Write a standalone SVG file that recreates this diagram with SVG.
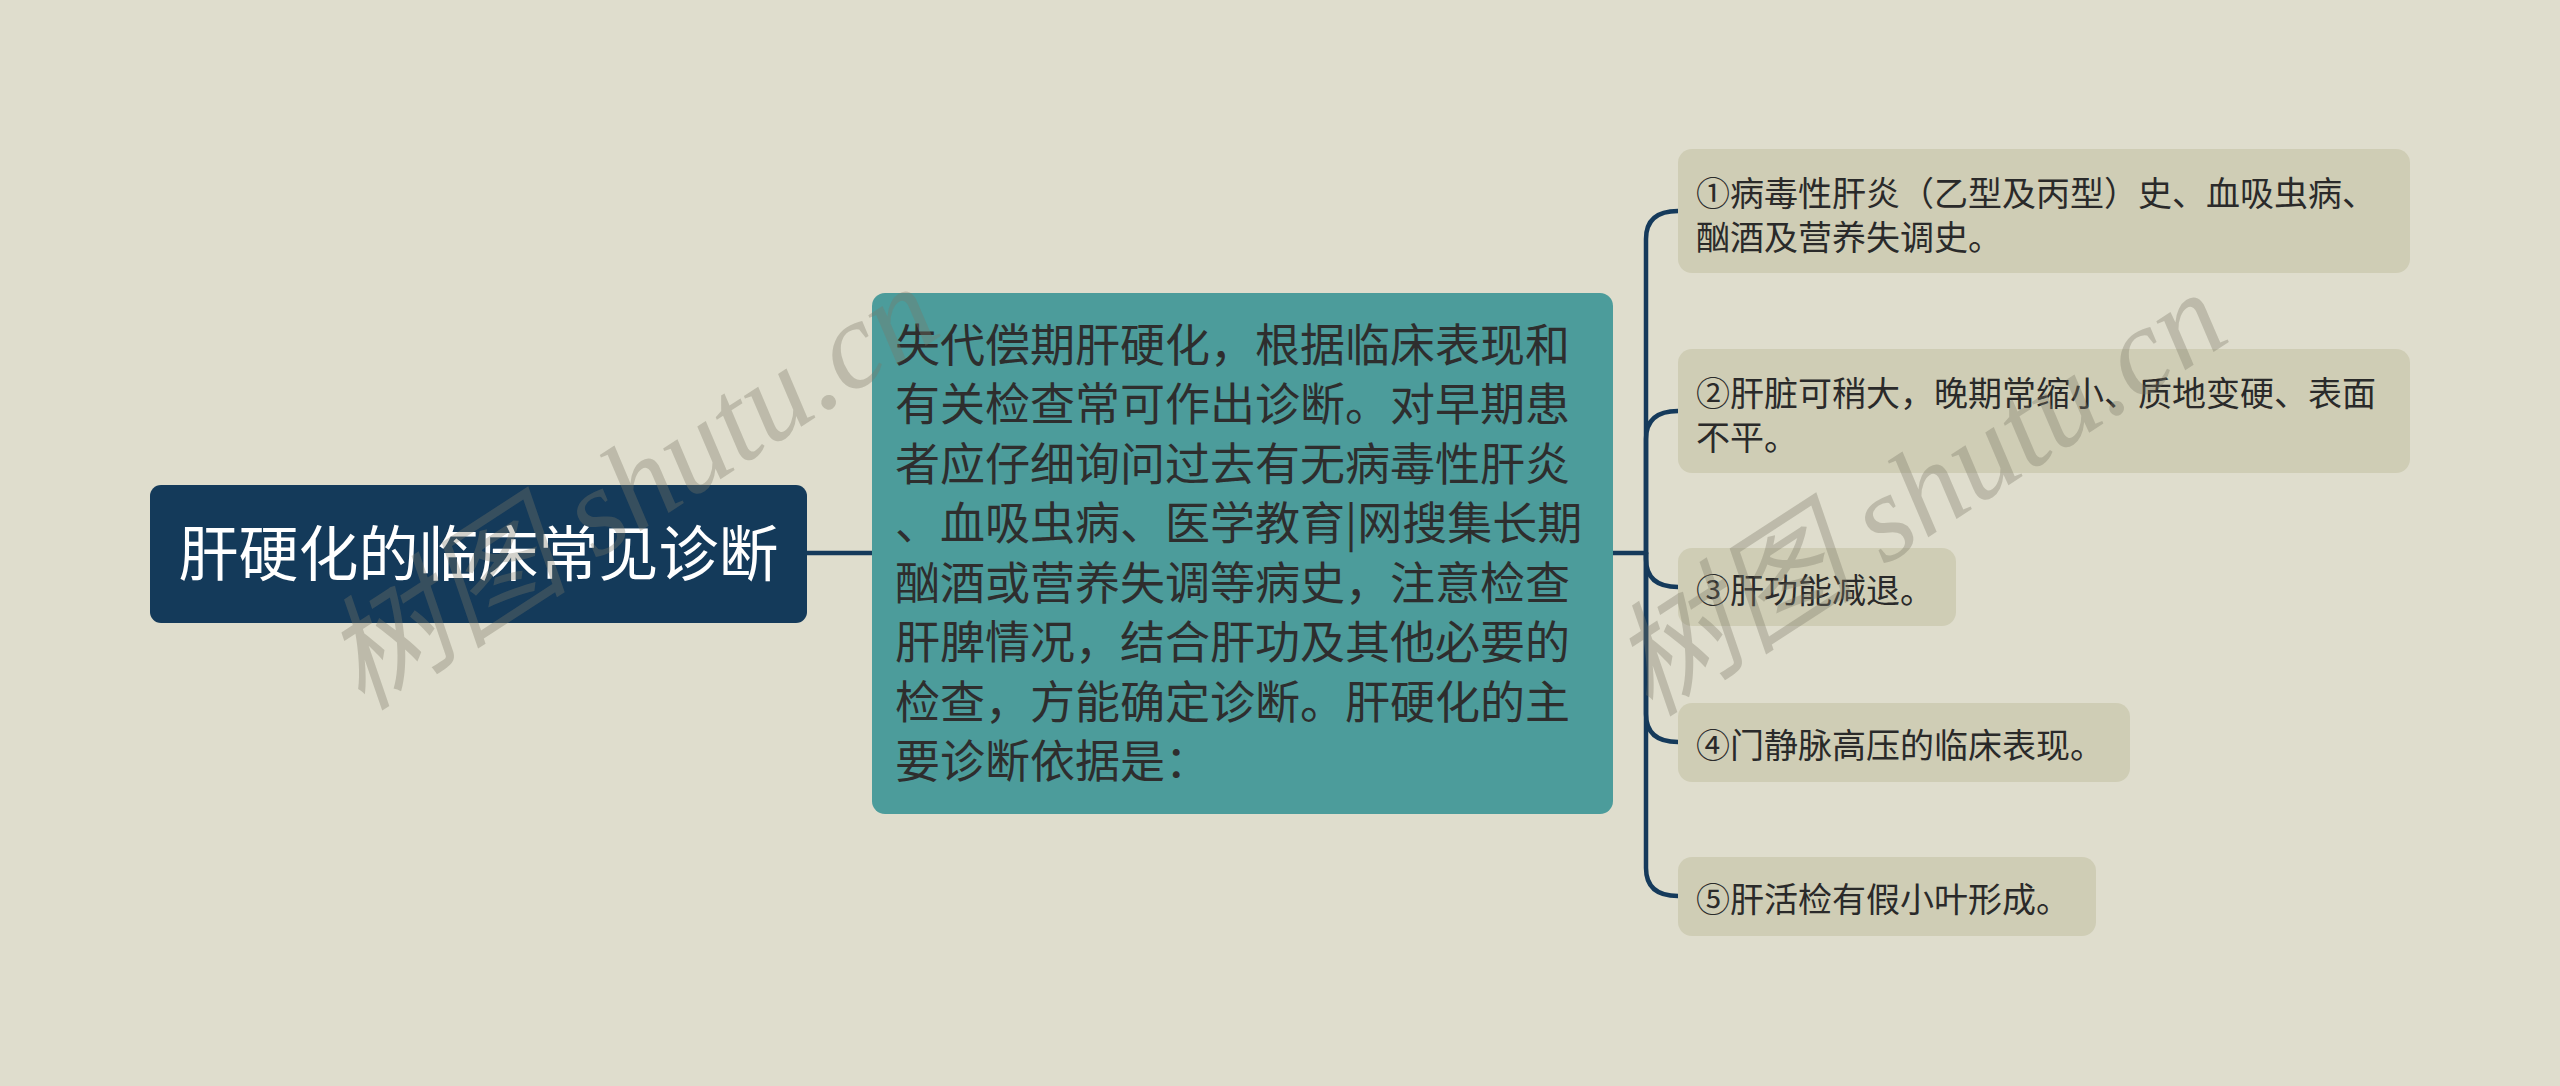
<svg xmlns="http://www.w3.org/2000/svg" width="2560" height="1086" viewBox="0 0 2560 1086">
<style>
.cjk{font-family:"Noto Sans CJK SC","Noto Sans",sans-serif}
.root{fill:#143a5a}
.mid{fill:#4c9c9b}
.leaf{fill:#cfcdb5}
.rt{font-size:60px;fill:#ffffff}
.mt{font-size:45px;fill:#2e2e2e}
.lt{font-size:34px;fill:#2a2a2a}
.conn{fill:none;stroke:#153a5b;stroke-width:4.5;stroke-linecap:round}
.wm{font-family:"Liberation Serif","Noto Sans CJK SC",serif;font-style:italic;font-size:124px;fill:#7a7968;fill-opacity:0.34}
</style>
<rect x="0" y="0" width="2560" height="1086" fill="#dfddcd"/>
<g id="connectors">
<path class="conn" d="M807 553 H872"/>
<path class="conn" d="M1613 553 H1646"/>
<path class="conn" d="M1646 553 V239 Q1646 211 1678 211"/>
<path class="conn" d="M1646 553 V439 Q1646 411 1678 411"/>
<path class="conn" d="M1646 553 V559 Q1646 587 1678 587"/>
<path class="conn" d="M1646 553 V714 Q1646 742 1678 742"/>
<path class="conn" d="M1646 553 V868 Q1646 896 1678 896"/>
</g>
<g id="node-root">
<rect class="root" x="150" y="485" width="657" height="138" rx="11"/>
<text class="cjk rt" x="478.5" y="576" text-anchor="middle">肝硬化的临床常见诊断</text>
</g>
<g id="node-mid">
<rect class="mid" x="872" y="293" width="741" height="521" rx="13"/>
<text class="cjk mt">
<tspan x="895" y="361.5">失代偿期肝硬化，根据临床表现和</tspan>
<tspan x="895" y="421">有关检查常可作出诊断。对早期患</tspan>
<tspan x="895" y="480.5">者应仔细询问过去有无病毒性肝炎</tspan>
<tspan x="895" y="540">、血吸虫病、医学教育|网搜集长期</tspan>
<tspan x="895" y="599.5">酗酒或营养失调等病史，注意检查</tspan>
<tspan x="895" y="659">肝脾情况，结合肝功及其他必要的</tspan>
<tspan x="895" y="718.5">检查，方能确定诊断。肝硬化的主</tspan>
<tspan x="895" y="778">要诊断依据是：</tspan>
</text>
</g>
<g id="node-1">
<rect class="leaf" x="1678" y="149" width="732" height="124" rx="14"/>
<text class="cjk lt"><tspan x="1696" y="206">①病毒性肝炎（乙型及丙型）史、血吸虫病、</tspan><tspan x="1696" y="250">酗酒及营养失调史。</tspan></text>
</g>
<g id="node-2">
<rect class="leaf" x="1678" y="349" width="732" height="124" rx="14"/>
<text class="cjk lt"><tspan x="1696" y="406">②肝脏可稍大，晚期常缩小、质地变硬、表面</tspan><tspan x="1696" y="450">不平。</tspan></text>
</g>
<g id="node-3">
<rect class="leaf" x="1678" y="548" width="278" height="78" rx="14"/>
<text class="cjk lt" x="1696" y="603">③肝功能减退。</text>
</g>
<g id="node-4">
<rect class="leaf" x="1678" y="703" width="452" height="79" rx="14"/>
<text class="cjk lt" x="1696" y="758">④门静脉高压的临床表现。</text>
</g>
<g id="node-5">
<rect class="leaf" x="1678" y="857" width="418" height="79" rx="14"/>
<text class="cjk lt" x="1696" y="912">⑤肝活检有假小叶形成。</text>
</g>
<g id="watermarks">
<text class="wm" x="362" y="712" transform="rotate(-33 362 712)">树图 shutu.cn</text>
<text class="wm" x="1650" y="718" transform="rotate(-33 1650 718)">树图 shutu.cn</text>
</g>
</svg>
